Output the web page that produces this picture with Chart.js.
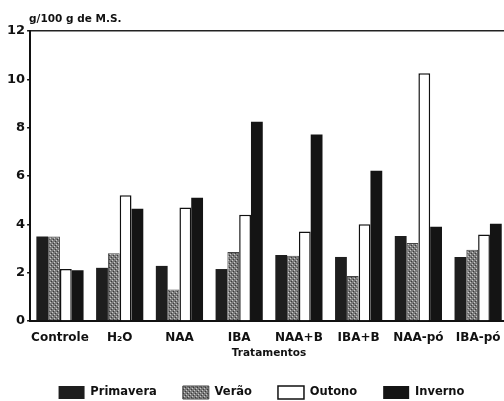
<!DOCTYPE html>
<html>
<head>
<meta charset="utf-8">
<script src="https://cdn.jsdelivr.net/npm/chart.js@4"></script>
<style>
  body { margin: 0; background: #fff; overflow: hidden; }
  #wrap { width: 508px; height: 401px; position: relative; }
</style>
</head>
<body>
<div id="wrap"><canvas id="myChart"></canvas></div>
<script>
// data
const tratamentos = ["Controle", "H\u2082O", "NAA", "IBA", "NAA+B", "IBA+B", "NAA-p\u00f3", "IBA-p\u00f3"];
const primavera = [3.5, 2.2, 2.28, 2.15, 2.73, 2.65, 3.52, 2.65];
const verao = [3.5, 2.8, 1.3, 2.86, 2.7, 1.86, 3.23, 2.95];
const outono = [2.15, 5.2, 4.7, 4.4, 3.7, 4.0, 10.25, 3.58];
const inverno = [2.1, 4.65, 5.1, 8.25, 7.72, 6.22, 3.9, 4.02];
const yTicks = [0, 2, 4, 6, 8, 10, 12];

const FONT = "'DejaVu Sans', Arial, sans-serif";

// stippled grey for the summer bars
function makeStipple() {
  const c = document.createElement("canvas");
  c.width = 4; c.height = 4;
  const g = c.getContext("2d");
  g.fillStyle = "#7a7a7a";
  g.fillRect(0, 0, 4, 4);
  g.fillStyle = "#c8c8c8";
  g.fillRect(0, 0, 1, 1);
  g.fillRect(2, 2, 1, 1);
  g.fillStyle = "#3a3a3a";
  g.fillRect(1, 3, 1, 1);
  g.fillRect(3, 1, 1, 1);
  return g.createPattern(c, "repeat");
}
const stipple = makeStipple();

const unitLabel = {
  id: "unitLabel",
  afterLayout(chart) {
    // legend in the original sits a bit right of centre
    if (chart.legend) { chart.legend.left += 5; chart.legend.right += 5; }
  },
  afterDraw(chart) {
    const { ctx, chartArea } = chart;
    ctx.save();
    ctx.font = "bold 10.5px " + FONT;
    ctx.fillStyle = "#111";
    ctx.textBaseline = "alphabetic";
    ctx.fillText("g/100 g de M.S.", chartArea.left - 1, chartArea.top - 9);
    ctx.restore();
  }
};

new Chart(document.getElementById("myChart"), {
  type: "bar",
  data: {
    labels: tratamentos,
    datasets: [
      { label: "Primavera", data: primavera, backgroundColor: "#1e1e1e", borderColor: "#1e1e1e", borderWidth: 0 },
      { label: "Ver\u00e3o", data: verao, backgroundColor: stipple, borderColor: "#444", borderWidth: 1 },
      { label: "Outono", data: outono, backgroundColor: "#fff", borderColor: "#111", borderWidth: 1.5 },
      { label: "Inverno", data: inverno, backgroundColor: "#141414", borderColor: "#141414", borderWidth: 0 }
    ]
  },
  options: {
    responsive: true,
    maintainAspectRatio: false,
    animation: false,
    layout: { padding: { top: 31, left: 5, right: 0, bottom: -8 } },
    datasets: { bar: { barPercentage: 1, categoryPercentage: 0.79, borderSkipped: "bottom" } },
    scales: {
      x: {
        border: { color: "#111", width: 2 },
        grid: { display: false },
        ticks: { color: "#111", font: { family: FONT, size: 12, weight: "bold" }, padding: 2, maxRotation: 0, autoSkip: false },
        title: { display: true, text: "Tratamentos", color: "#111", font: { family: FONT, size: 10.5, weight: "bold" }, padding: { top: 0, bottom: 0 } }
      },
      y: {
        min: 0,
        max: 12,
        afterBuildTicks: (axis) => { axis.ticks = yTicks.map(v => ({ value: v })); },
        border: { color: "#111", width: 2 },
        grid: {
          drawOnChartArea: true,
          color: (ctx) => (ctx.tick && ctx.tick.value === 12 ? "#222" : "rgba(0,0,0,0)"),
          lineWidth: 1.5,
          tickColor: "#111",
          tickLength: 3
        },
        ticks: { color: "#111", font: { family: FONT, size: 13, weight: "bold" }, padding: 2 }
      }
    },
    plugins: {
      legend: {
        position: "bottom",
        labels: {
          color: "#111",
          font: { family: FONT, size: 11.5, weight: "bold" },
          boxWidth: 26,
          boxHeight: 13,
          padding: 26
        }
      },
      tooltip: { enabled: false }
    }
  },
  plugins: [unitLabel]
});
</script>
</body>
</html>
